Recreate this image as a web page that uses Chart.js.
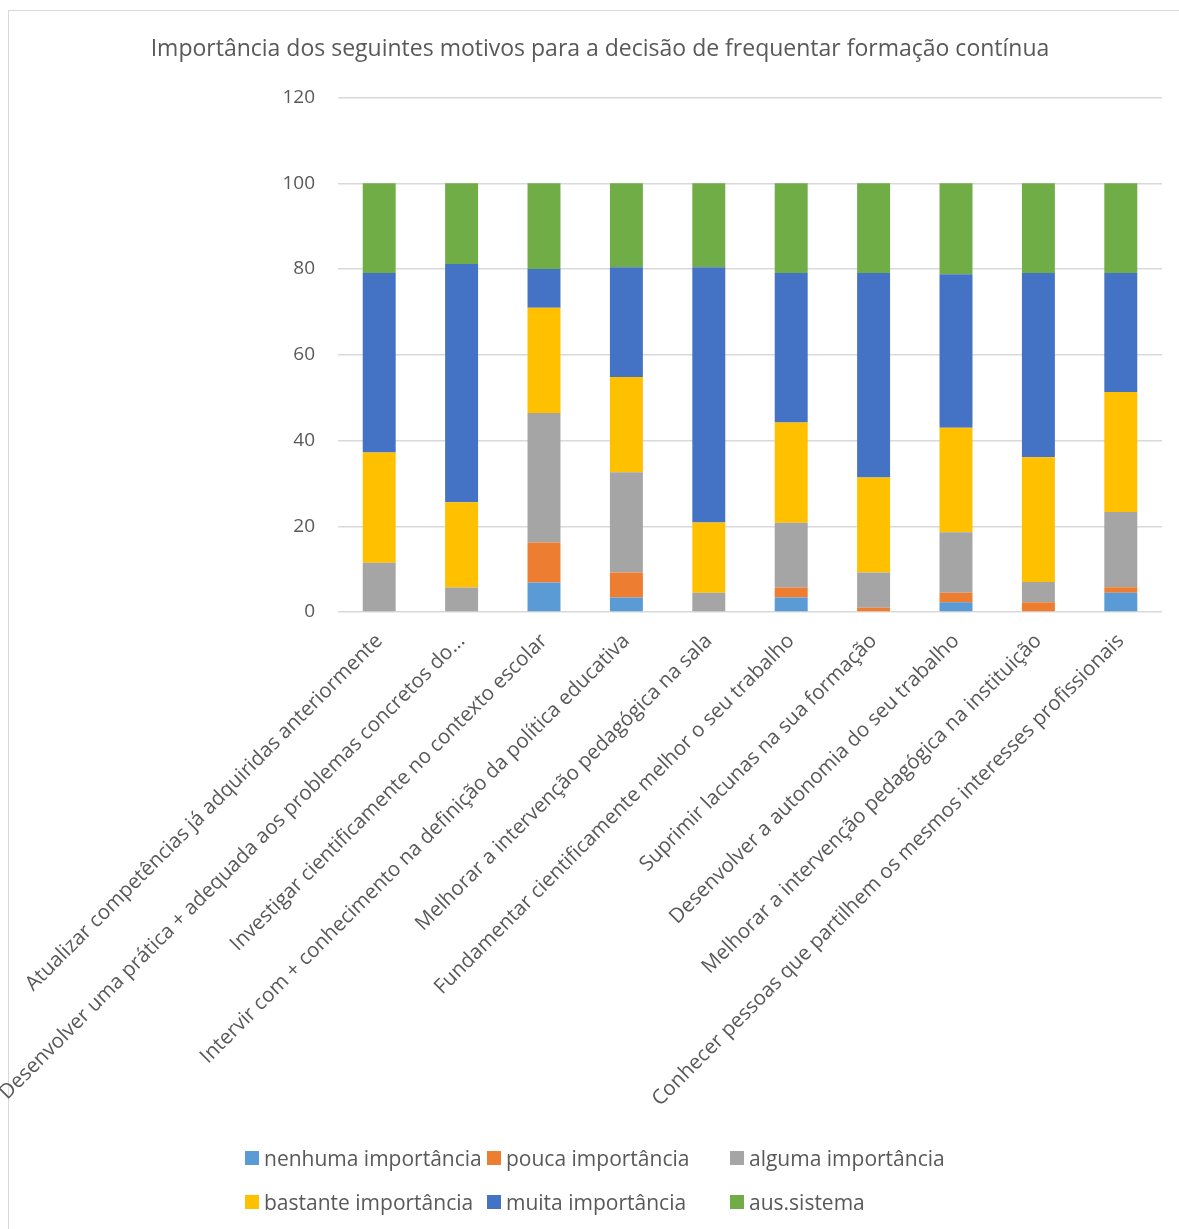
<!DOCTYPE html>
<html lang="pt">
<head>
<meta charset="utf-8">
<title>Importância dos motivos para frequentar formação contínua</title>
<script src="https://cdn.jsdelivr.net/npm/chart.js@4.4.1/dist/chart.umd.min.js"></script>
<style>
  html, body { margin: 0; padding: 0; background: #fff; }
  #page { position: relative; width: 1179px; height: 1229px; overflow: hidden; }
  #frame { position: absolute; left: 8px; top: 10px; width: 1200px; height: 1300px; border: 1px solid #d9d9d9; }
  #myChart { position: absolute; left: 0; top: 0; }
  #legend { position: absolute; left: 245px; top: 1136px; display: grid;
            grid-template-columns: 242px 243px auto; grid-auto-rows: 44px;
            font-family: "Open Sans", sans-serif; font-size: 21px; color: #595959; }
  #legend div { display: flex; align-items: center; white-space: nowrap; }
  #legend span.box { width: 14px; height: 14px; margin-right: 5px; flex: none; }
</style>
</head>
<body>
<div id="page">
  <div id="frame"></div>
  <canvas id="myChart" width="1179" height="1229"></canvas>
  <div id="legend"></div>
</div>
<script>
var categories = [
  'Atualizar competências já adquiridas anteriormente',
  'Desenvolver uma prática + adequada aos problemas concretos do...',
  'Investigar cientificamente no contexto escolar',
  'Intervir com + conhecimento na definição da política educativa',
  'Melhorar a intervenção pedagógica na sala',
  'Fundamentar cientificamente melhor o seu trabalho',
  'Suprimir lacunas na sua formação',
  'Desenvolver a autonomia do seu trabalho',
  'Melhorar a intervenção pedagógica na instituição',
  'Conhecer pessoas que partilhem os mesmos interesses profissionais'
];

var seriesNames = ['nenhuma importância', 'pouca importância', 'alguma importância',
                   'bastante importância', 'muita importância', 'aus.sistema'];
var seriesColors = ['#5B9BD5', '#ED7D31', '#A5A5A5', '#FFC000', '#4472C4', '#70AD47'];

// percentages per motive
var nenhuma  = [0, 0, 6.9, 3.4, 0, 3.4, 0, 2.3, 0, 4.5];
var pouca    = [0, 0, 9.3, 5.8, 0, 2.3, 1.0, 2.2, 2.3, 1.3];
var alguma   = [11.5, 5.7, 30.2, 23.4, 4.5, 15.1, 8.2, 14.1, 4.7, 17.5];
var bastante = [25.7, 19.9, 24.6, 22.2, 16.4, 23.4, 22.2, 24.4, 29.1, 28.0];
var muita    = [41.9, 55.6, 9.0, 25.6, 59.5, 34.9, 47.7, 35.8, 43.0, 27.8];
var ausSistema = [20.9, 18.8, 20.0, 19.6, 19.6, 20.9, 20.9, 21.2, 20.9, 20.9];

var yTicks = { min: 0, max: 120, step: 20 };

var seriesValues = [nenhuma, pouca, alguma, bastante, muita, ausSistema];
var textColor = '#595959';
var gridColor = '#d9d9d9';
var fontFamily = '"Open Sans", sans-serif';

var datasets = seriesValues.map(function (values, i) {
  return {
    label: seriesNames[i],
    data: values,
    backgroundColor: seriesColors[i],
    borderWidth: 0,
    categoryPercentage: 0.4,
    barPercentage: 1
  };
});

var ctx = document.getElementById('myChart').getContext('2d');
var myChart = new Chart(ctx, {
  type: 'bar',
  data: { labels: categories, datasets: datasets },
  options: {
    responsive: false,
    animation: false,
    layout: { padding: { left: 38, right: 17, top: 0, bottom: 0 } },
    plugins: {
      legend: { display: false },
      tooltip: { enabled: false },
      title: {
        display: true,
        text: 'Importância dos seguintes motivos para a decisão de frequentar formação contínua',
        color: textColor,
        font: { family: fontFamily, size: 23, weight: 'normal' },
        padding: { top: 36, bottom: 34 }
      }
    },
    scales: {
      x: {
        stacked: true,
        grid: { display: false },
        border: { display: false },
        ticks: {
          color: textColor,
          font: { family: fontFamily, size: 20.5 },
          minRotation: 45,
          maxRotation: 45,
          autoSkip: false,
          padding: 9
        },
        afterFit: function (scale) {
          scale.height = 617;
          // long slanted labels may run into the left margin
          scale.paddingLeft = 0;
        }
      },
      y: {
        stacked: true,
        min: yTicks.min,
        max: yTicks.max,
        grid: { color: gridColor, lineWidth: 1.5, drawTicks: false },
        border: { display: false },
        ticks: {
          stepSize: yTicks.step,
          color: textColor,
          font: { family: fontFamily, size: 19 },
          padding: 23
        },
        afterFit: function (scale) { scale.width = 300; }
      }
    }
  }
});

// legend laid out as a 3-column grid under the chart
var legendEl = document.getElementById('legend');
seriesNames.forEach(function (name, i) {
  var item = document.createElement('div');
  var box = document.createElement('span');
  box.className = 'box';
  box.style.background = seriesColors[i];
  item.appendChild(box);
  item.appendChild(document.createTextNode(name));
  legendEl.appendChild(item);
});
</script>
</body>
</html>
